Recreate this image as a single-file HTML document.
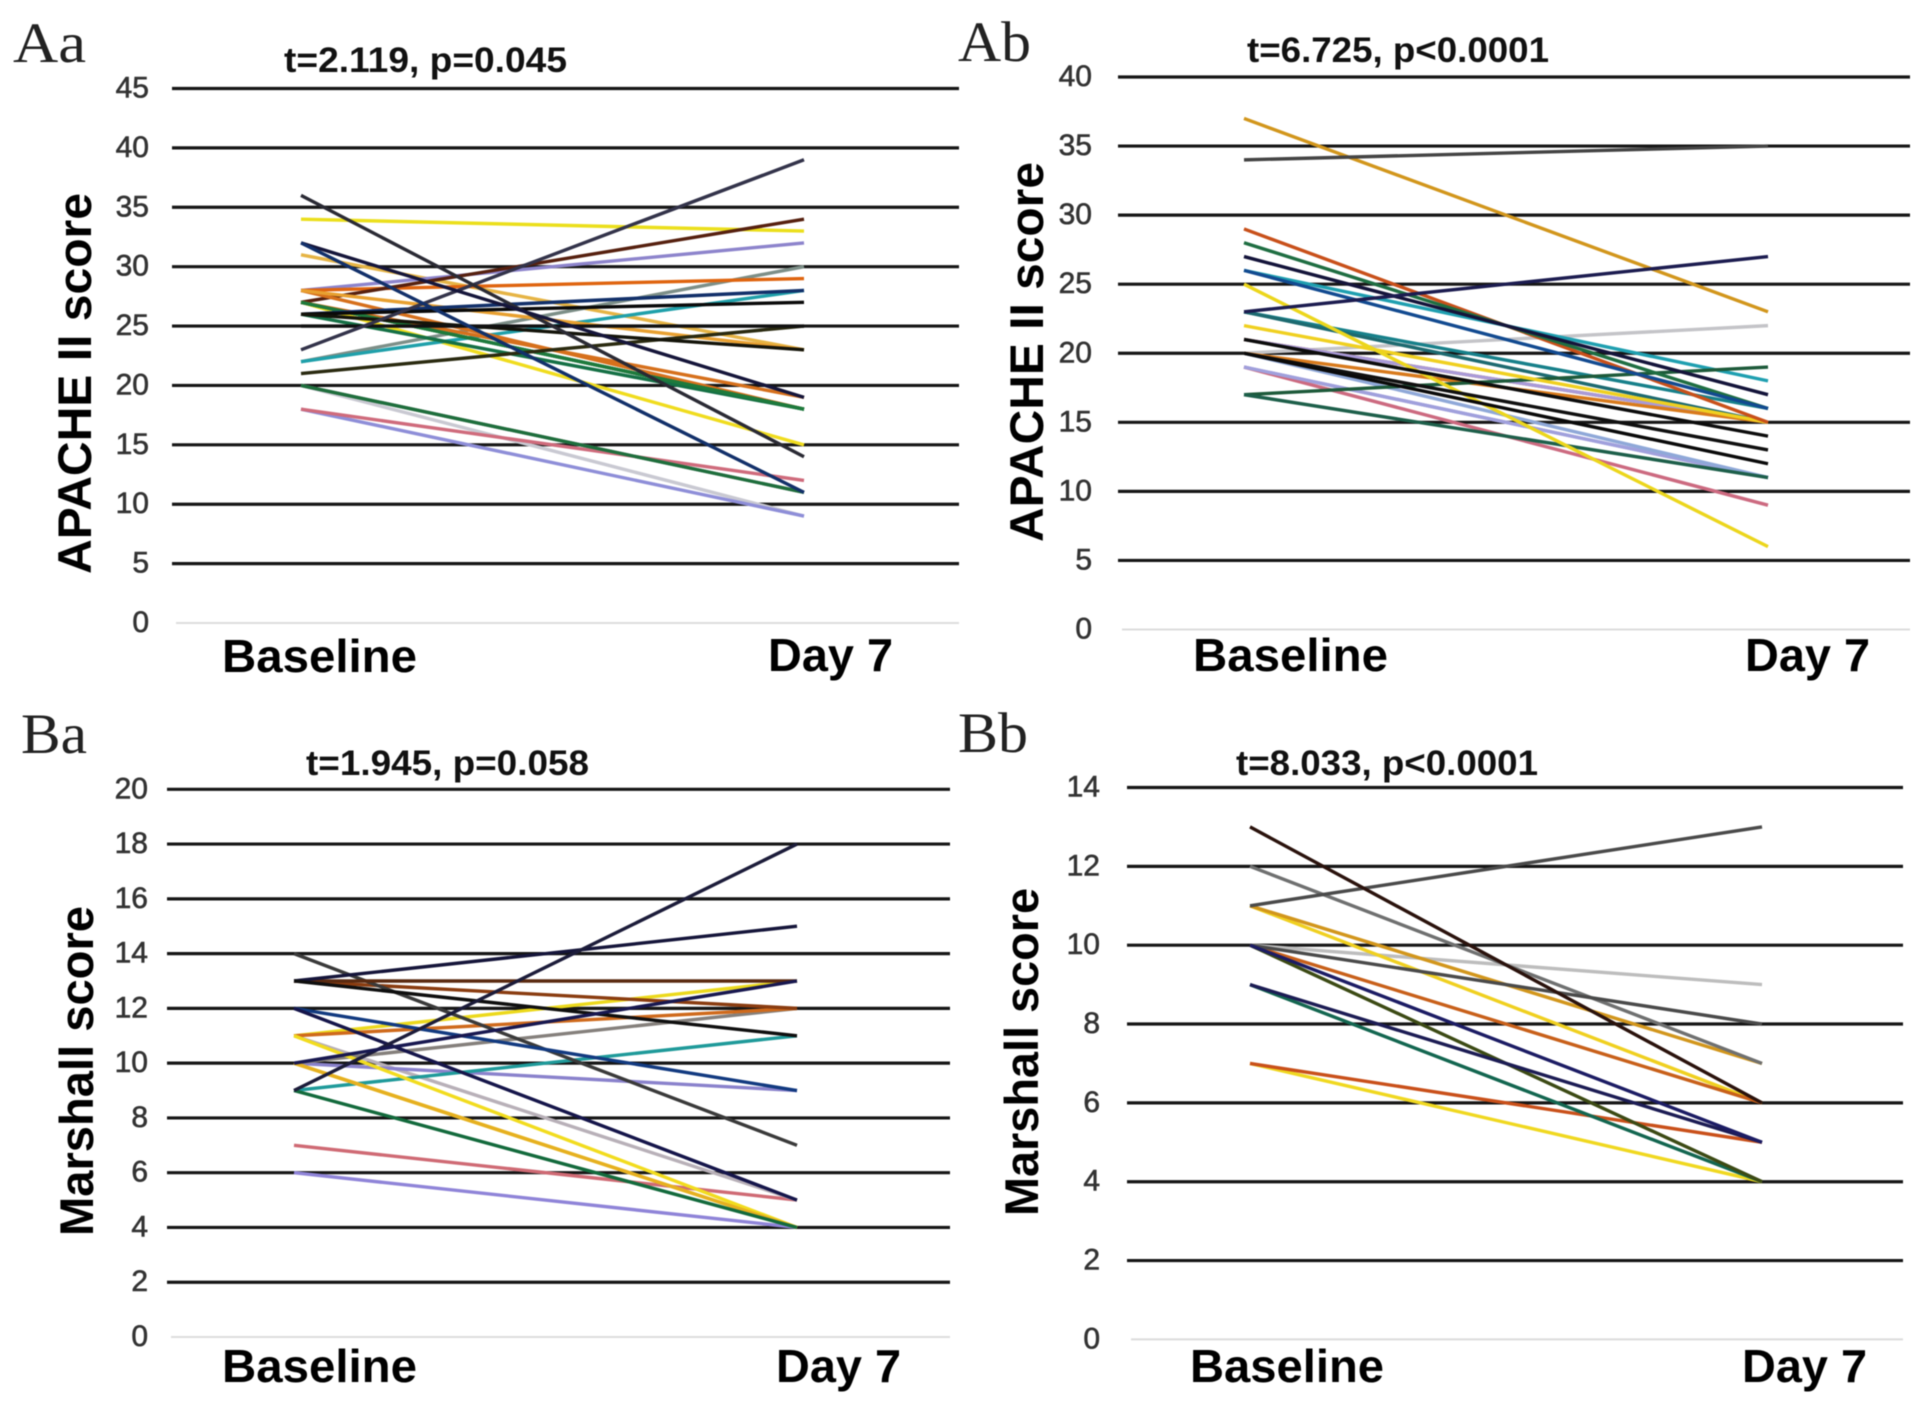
<!DOCTYPE html>
<html lang="en">
<head>
<meta charset="utf-8">
<title>APACHE II and Marshall scores at baseline and day 7</title>
<style>
html,body{margin:0;padding:0;background:#fff;width:1928px;height:1408px;overflow:hidden}
svg{display:block;filter:blur(.6px)}
.panel-label{font-family:"Liberation Serif",serif;font-size:57px;fill:#222}
.stat{font-family:"Liberation Sans",sans-serif;font-weight:700;font-size:35px;fill:#111}
.axis-title{font-family:"Liberation Sans",sans-serif;font-weight:700;font-size:47px;fill:#000}
.cat{font-family:"Liberation Sans",sans-serif;font-weight:700;font-size:46px;fill:#000}
.tick{font-family:"Liberation Sans",sans-serif;font-size:30px;fill:#333;stroke:#333;stroke-width:.6;text-anchor:end}
</style>
</head>
<body>
<svg id="figure" xmlns="http://www.w3.org/2000/svg" width="1928" height="1408" viewBox="0 0 1928 1408">
  <rect x="0" y="0" width="1928" height="1408" fill="#fff"/>

  <g id="panel-aa">
    <text class="panel-label" x="13" y="62" textLength="73" lengthAdjust="spacingAndGlyphs">Aa</text>
    <text class="stat" x="284" y="72" textLength="283" lengthAdjust="spacingAndGlyphs">t=2.119, p=0.045</text>
    <text class="axis-title" transform="translate(91 574) rotate(-90)" textLength="381" lengthAdjust="spacingAndGlyphs">APACHE II score</text>
    <text class="cat" x="222" y="672" textLength="195" lengthAdjust="spacingAndGlyphs">Baseline</text>
    <text class="cat" x="768" y="671" textLength="125" lengthAdjust="spacingAndGlyphs">Day 7</text>
  </g>

  <g id="panel-ab">
    <text class="panel-label" x="958" y="61" textLength="73" lengthAdjust="spacingAndGlyphs">Ab</text>
    <text class="stat" x="1247" y="62" textLength="302" lengthAdjust="spacingAndGlyphs">t=6.725, p&lt;0.0001</text>
    <text class="axis-title" transform="translate(1043 542) rotate(-90)" textLength="380" lengthAdjust="spacingAndGlyphs">APACHE II score</text>
    <text class="cat" x="1193" y="671" textLength="195" lengthAdjust="spacingAndGlyphs">Baseline</text>
    <text class="cat" x="1745" y="671" textLength="125" lengthAdjust="spacingAndGlyphs">Day 7</text>
  </g>

  <g id="panel-ba">
    <text class="panel-label" x="21" y="753" textLength="66" lengthAdjust="spacingAndGlyphs">Ba</text>
    <text class="stat" x="306" y="775" textLength="283" lengthAdjust="spacingAndGlyphs">t=1.945, p=0.058</text>
    <text class="axis-title" transform="translate(93 1236) rotate(-90)" textLength="330" lengthAdjust="spacingAndGlyphs">Marshall score</text>
    <text class="cat" x="222" y="1382" textLength="195" lengthAdjust="spacingAndGlyphs">Baseline</text>
    <text class="cat" x="776" y="1382" textLength="125" lengthAdjust="spacingAndGlyphs">Day 7</text>
  </g>

  <g id="panel-bb">
    <text class="panel-label" x="958" y="752" textLength="70" lengthAdjust="spacingAndGlyphs">Bb</text>
    <text class="stat" x="1236" y="775" textLength="302" lengthAdjust="spacingAndGlyphs">t=8.033, p&lt;0.0001</text>
    <text class="axis-title" transform="translate(1038 1216) rotate(-90)" textLength="328" lengthAdjust="spacingAndGlyphs">Marshall score</text>
    <text class="cat" x="1190" y="1382" textLength="194" lengthAdjust="spacingAndGlyphs">Baseline</text>
    <text class="cat" x="1742" y="1382" textLength="125" lengthAdjust="spacingAndGlyphs">Day 7</text>
  </g>
</svg>

<script>
// Panel Aa: APACHE II score, control group
const aaTicks = [0, 5, 10, 15, 20, 25, 30, 35, 40, 45];
const aaBaseline = [20, 18, 18, 20, 20, 27, 31, 34, 28, 22, 22, 28, 27, 28, 27, 27, 28, 27, 26, 27, 26, 21, 26, 26, 25, 23, 36, 32, 32];
const aaDay7 = [9, 9, 12, 11, 11, 15, 23, 33, 32, 30, 28, 29, 34, 18, 18, 18, 23, 19, 18, 18, 28, 25, 27, 23, 25, 39, 14, 19, 11];

// Panel Ab: APACHE II score, treatment group
const abTicks = [0, 5, 10, 15, 20, 25, 30, 35, 40];
const abBaseline = [20, 19, 19, 21, 26, 19, 20, 21, 20, 23, 23, 17, 17, 22, 25, 37, 34, 29, 28, 26, 27, 23, 21, 20, 20];
const abDay7 = [22, 11, 9, 15, 18, 11, 11, 15, 15, 16, 15, 19, 11, 15, 6, 23, 35, 15, 16, 16, 17, 27, 14, 13, 12];

// Panel Ba: Marshall score, control group
const baTicks = [0, 2, 4, 6, 8, 10, 12, 14, 16, 18, 20];
const baBaseline = [6, 7, 11, 10, 9, 10, 10, 11, 11, 13, 10, 11, 10, 10, 9, 14, 13, 13, 13, 12, 12, 9, 10];
const baDay7 = [4, 5, 5, 9, 11, 12, 4, 13, 12, 12, 4, 4, 4, 4, 4, 7, 13, 15, 11, 9, 5, 18, 13];

// Panel Bb: Marshall score, treatment group
const bbTicks = [0, 2, 4, 6, 8, 10, 12, 14];
const bbBaseline = [10, 7, 7, 11, 11, 12, 10, 10, 9, 10, 9, 10, 11, 13];
const bbDay7 = [9, 4, 5, 6, 7, 7, 6, 8, 4, 4, 5, 5, 13, 6];

// Series colours, listed separately from the values
const aaColors = ['#c9c9d2', '#8e8ed8', '#cf6b7c', '#808080', '#1e6e3c', '#f0dc1e', '#e6b445', '#ebdf1c', '#8d84cc', '#7d8f88', '#1fa0aa', '#df640f', '#56200f', '#d6701c', '#1e7a3c', '#157045', '#e8a030', '#d6701c', '#157045', '#1e7a3c', '#12306a', '#2a2a10', '#0a0a0a', '#14140a', '#111', '#33334a', '#2a2a34', '#15153a', '#12306a'];
const abColors = ['#c4c4c8', '#9a8fd8', '#cc6a80', '#d8861c', '#1f9fb0', '#a0a0dc', '#8fa8d8', '#a99ad8', '#d87a1c', '#17808a', '#1d6a70', '#1d5a3a', '#1d5f4a', '#f0d020', '#ecd61c', '#d2961c', '#444', '#c8501a', '#1f6e42', '#124a90', '#14143a', '#1c1c50', '#0c0c0c', '#101010', '#0a0a0a'];
const baColors = ['#8f84d8', '#cf6a74', '#b8b0b8', '#8a82cc', '#1f9a9a', '#85807c', '#f2dc1e', '#ecd91c', '#cf6a1c', '#8a3c10', '#d98a1c', '#f2dc1e', '#f2dc1e', '#e6b020', '#136a3c', '#3a3a3a', '#5a2a10', '#15153a', '#0f0f0f', '#123a80', '#15154a', '#1c1c3a', '#181850'];
const bbColors = ['#bdbdbd', '#f0d820', '#c9501a', '#f0d020', '#d2961c', '#6f7070', '#c8601a', '#4a4a4a', '#136650', '#3c4a14', '#1c1c54', '#1c1c64', '#4a4a4a', '#2a120c'];

const categories = ['Baseline', 'Day 7'];

const SVG_NS = 'http://www.w3.org/2000/svg';

function makeAxis(inStart, inEnd, outStart, outEnd) {
  return function (v) {
    return outStart + (v - inStart) * (outEnd - outStart) / (inEnd - inStart);
  };
}

function drawPanel(id, ticks, baseline, day7, colors, geo) {
  const root = document.getElementById(id);
  const yAxis = makeAxis(0, ticks[ticks.length - 1], geo.yZero, geo.yTop);
  const xAxis = makeAxis(0, categories.length - 1, geo.lineLeft, geo.lineRight);

  ticks.forEach(function (tick) {
    const grid = document.createElementNS(SVG_NS, 'line');
    
    
    grid.setAttribute('x1', tick === 0 ? geo.gridLeft + 4 : geo.gridLeft);
    grid.setAttribute('x2', geo.gridRight);
    grid.setAttribute('y1', yAxis(tick));
    grid.setAttribute('y2', yAxis(tick));
    grid.setAttribute('stroke', tick === 0 ? '#dcdcdc' : '#161616');
    grid.setAttribute('stroke-width', tick === 0 ? 2 : 3.2);
    root.appendChild(grid);

    const label = document.createElementNS(SVG_NS, 'text');
    
    
    label.setAttribute('class', 'tick');
    label.setAttribute('x', geo.tickRight);
    label.setAttribute('y', yAxis(tick) + 9);
    label.textContent = String(tick);
    root.appendChild(label);
  });

  baseline.forEach(function (start, i) {
    const path = document.createElementNS(SVG_NS, 'line');
    
    
    path.setAttribute('x1', xAxis(0));
    path.setAttribute('y1', yAxis(start));
    path.setAttribute('x2', xAxis(1));
    path.setAttribute('y2', yAxis(day7[i]));
    path.setAttribute('stroke', colors[i]);
    path.setAttribute('stroke-width', 3.4);
    root.appendChild(path);
  });
}

drawPanel('panel-aa', aaTicks, aaBaseline, aaDay7, aaColors, { yTop: 88.5, yZero: 623, gridLeft: 172, gridRight: 959, lineLeft: 301, lineRight: 804, tickRight: 149 });
drawPanel('panel-ab', abTicks, abBaseline, abDay7, abColors, { yTop: 77, yZero: 629.5, gridLeft: 1118, gridRight: 1910, lineLeft: 1244, lineRight: 1768, tickRight: 1092 });
drawPanel('panel-ba', baTicks, baBaseline, baDay7, baColors, { yTop: 789.3, yZero: 1337, gridLeft: 167, gridRight: 950, lineLeft: 294, lineRight: 797, tickRight: 148 });
drawPanel('panel-bb', bbTicks, bbBaseline, bbDay7, bbColors, { yTop: 787.5, yZero: 1339.4, gridLeft: 1127, gridRight: 1903, lineLeft: 1250, lineRight: 1762, tickRight: 1100 });
</script>
</body>
</html>
